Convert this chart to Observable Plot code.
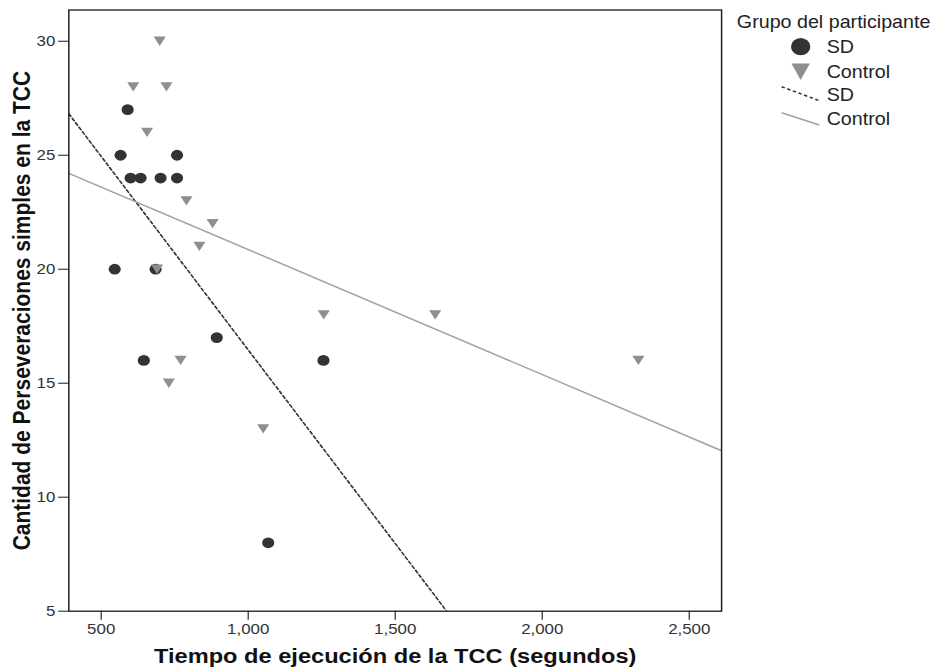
<!DOCTYPE html>
<html>
<head>
<meta charset="utf-8">
<script src="https://cdn.jsdelivr.net/npm/d3@7"></script>
<script src="https://cdn.jsdelivr.net/npm/@observablehq/plot@0.6"></script>
<style>
  html, body { margin: 0; padding: 0; background: #fff; overflow: hidden; }
  #figure {
    position: relative;
    width: 832px;
    height: 671px;
    transform: scaleX(1.125);
    transform-origin: 0 0;
    font-family: "Liberation Sans", Arial, sans-serif;
  }
  #figure > svg { position: absolute; left: 0; top: 0; }
</style>
</head>
<body>
<div id="figure"></div>
<script>
// Tiempo de ejecución (s) y perseveraciones simples, por grupo
const sdTime     = [590, 566, 758, 600, 634, 702, 758, 546, 685, 893, 645, 1256, 1068];
const sdPersev   = [27, 25, 25, 24, 24, 24, 24, 20, 20, 17, 16, 16, 8];
const ctrlTime   = [699, 609, 722, 656, 790, 879, 834, 690, 770, 730, 1257, 1051, 1636, 2327];
const ctrlPersev = [30, 28, 28, 26, 23, 22, 21, 20, 16, 15, 18, 13, 18, 16];

const groups = ["SD", "Control"];
const xTicks = [500, 1000, 1500, 2000, 2500];
const yTicks = [5, 10, 15, 20, 25, 30];
const xDomain = [390, 2610];
const yDomain = [5, 31.37];

const xLabel = "Tiempo de ejecución de la TCC (segundos)";
const yLabel = "Cantidad de Perseveraciones simples en la TCC";
const legendTitle = "Grupo del participante";

const sdColor = "#333333";
const ctrlColor = "#8f8f8f";
const ctrlLineColor = "#a3a3a3";

const sdRows = sdTime.map((t, i) => ({time: t, persev: sdPersev[i]}));
const ctrlRows = ctrlTime.map((t, i) => ({time: t, persev: ctrlPersev[i]}));

// Ordinary least squares fit, evaluated across the whole x domain
function fitLine(rows) {
  const mx = d3.mean(rows, d => d.time);
  const my = d3.mean(rows, d => d.persev);
  const b = d3.sum(rows, d => (d.time - mx) * (d.persev - my)) /
            d3.sum(rows, d => (d.time - mx) ** 2);
  return xDomain.map(x => ({time: x, persev: my + b * (x - mx)}));
}

// Downward-pointing triangle, centred on its bounding box
const triangleDown = {
  draw(context, size) {
    const s = Math.sqrt(4 * size / Math.sqrt(3));
    const h = s * Math.sqrt(3) / 2;
    context.moveTo(-s / 2, -h / 2);
    context.lineTo(s / 2, -h / 2);
    context.lineTo(0, h / 2);
    context.closePath();
  }
};

const W = 832, H = 671;
const chart = Plot.plot({
  width: W,
  height: H,
  marginLeft: 60.7,
  marginRight: W - 640.9,
  marginTop: 9.5,
  marginBottom: H - 610.7,
  style: {fontFamily: "'Liberation Sans', Arial, sans-serif", color: "#222", background: "transparent"},
  x: {domain: xDomain},
  y: {domain: yDomain},
  marks: [
    Plot.dot(sdRows, {x: "time", y: "persev", r: 5.4, fill: sdColor, stroke: "none", symbol: "circle"}),
    Plot.dot(ctrlRows, {x: "time", y: "persev", r: 4, fill: ctrlColor, stroke: "none", symbol: triangleDown}),
    Plot.line(fitLine(sdRows), {x: "time", y: "persev", stroke: sdColor, strokeWidth: 1.5, strokeDasharray: "3,2.4", clip: true}),
    Plot.line(fitLine(ctrlRows), {x: "time", y: "persev", stroke: ctrlLineColor, strokeWidth: 1.5, clip: true}),
    Plot.frame({stroke: "#1a1a1a", strokeWidth: 1.3}),
    Plot.axisX({ticks: xTicks, tickFormat: d3.format(","), tickSize: 9, tickPadding: 3, fontSize: 15, label: null, stroke: "#1a1a1a", fill: "#333"}),
    Plot.axisY({ticks: yTicks, tickSize: 9, tickPadding: 3, fontSize: 15, label: null, stroke: "#1a1a1a", fill: "#333"}),
    Plot.text([xLabel], {frameAnchor: "bottom", dy: 45.5, textAnchor: "middle", lineAnchor: "middle", text: d => d, fontSize: 21, fontWeight: "bold", fill: "#111"}),
    Plot.text([yLabel], {frameAnchor: "left", dx: -41, rotate: -90, textAnchor: "middle", lineAnchor: "middle", text: d => d, fontSize: 21, fontWeight: "bold", fill: "#111"})
  ]
});

const fig = document.getElementById("figure");
fig.appendChild(chart);

// Legend: point symbols and fit-line symbols for each group
const legend = d3.create("svg")
  .attr("width", W).attr("height", H)
  .style("font-family", "'Liberation Sans', Arial, sans-serif")
  .style("font-size", "17.5px");

legend.append("text").attr("x", 655).attr("y", 28).attr("fill", "#222").text(legendTitle);

const symX = 711.7, labelX = 734.8;
legend.append("circle").attr("cx", symX).attr("cy", 46.7).attr("r", 8.6).attr("fill", sdColor);
legend.append("text").attr("x", labelX).attr("y", 53.3).attr("fill", "#222").text(groups[0]);

legend.append("path")
  .attr("d", `M${symX - 8.2},63.5L${symX + 8.2},63.5L${symX},80Z`)
  .attr("fill", ctrlColor);
legend.append("text").attr("x", labelX).attr("y", 78.3).attr("fill", "#222").text(groups[1]);

legend.append("line")
  .attr("x1", 694.8).attr("y1", 86.7).attr("x2", 728.3).attr("y2", 100.7)
  .attr("stroke", sdColor).attr("stroke-width", 1.5).attr("stroke-dasharray", "3,2.4");
legend.append("text").attr("x", labelX).attr("y", 100.7).attr("fill", "#222").text(groups[0]);

legend.append("line")
  .attr("x1", 694.8).attr("y1", 112.7).attr("x2", 728.3).attr("y2", 125)
  .attr("stroke", ctrlLineColor).attr("stroke-width", 1.5);
legend.append("text").attr("x", labelX).attr("y", 125).attr("fill", "#222").text(groups[1]);

fig.appendChild(legend.node());
</script>
</body>
</html>
